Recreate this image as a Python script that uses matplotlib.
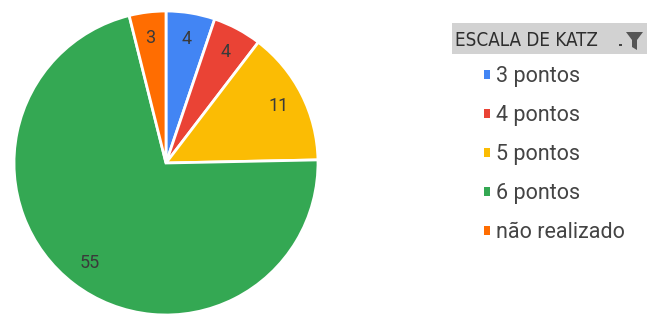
import matplotlib.pyplot as plt
from matplotlib.patches import Rectangle, Polygon

# dados
categorias = ['3 pontos', '4 pontos', '5 pontos', '6 pontos', 'não realizado']
valores = [4, 4, 11, 55, 3]
cores = ['#4285F4', '#EA4335', '#FBBC04', '#34A853', '#FF6D01']
titulo_legenda = 'ESCALA DE KATZ'

fig = plt.figure(figsize=(6.47, 3.14), dpi=100)
W, H = 647, 314

# pizza: centro (166,163) px, raio 152 px
cx, cy, r = 166, 163, 152
ax = fig.add_axes([(cx - r) / W, (H - cy - r) / H, 2 * r / W, 2 * r / H])

wedges, textos, autotextos = ax.pie(
    valores, colors=cores, startangle=90, counterclock=False,
    autopct=lambda p: '%d' % round(p * sum(valores) / 100),
    pctdistance=0.83, labels=None,
    wedgeprops=dict(edgecolor='white', linewidth=2),
    textprops=dict(fontsize=13, color='#3a3a3a', family='Roboto'))
ax.set_xlim(-1, 1)
ax.set_ylim(-1, 1)
ax.axis('off')

# cabeçalho da legenda
fig.patches.append(Rectangle((452 / W, (H - 54) / H), 195 / W, 31 / H,
                             transform=fig.transFigure, facecolor='#d2d2d2',
                             edgecolor='none'))
fig.text(455 / W, (H - 40) / H, titulo_legenda, fontsize=13.5, color='#2e2e2e',
         family='DejaVu Sans', fontstretch='condensed', va='center', ha='left')
# ícone de filtro
fig.patches.append(Polygon([(626 / W, (H - 32) / H), (643 / W, (H - 32) / H),
                            (637 / W, (H - 40) / H), (637 / W, (H - 50) / H),
                            (632 / W, (H - 47) / H), (632 / W, (H - 40) / H)],
                           closed=True, transform=fig.transFigure,
                           facecolor='#555555', edgecolor='none'))
fig.patches.append(Rectangle((619 / W, (H - 46) / H), 3 / W, 2 / H,
                             transform=fig.transFigure, facecolor='#444444',
                             edgecolor='none'))

leg = fig.legend(wedges, categorias, loc='upper left',
                 bbox_to_anchor=(484 / W, (H - 66) / H), frameon=False,
                 prop=dict(family='Roboto', size=15.5), labelcolor='#444444',
                 handlelength=0.3, handleheight=0.3, handletextpad=0.25,
                 labelspacing=0.84, borderpad=0, borderaxespad=0)
for h in leg.legend_handles:
    h.set_edgecolor('none')

fig.savefig('out.png', dpi=100)
